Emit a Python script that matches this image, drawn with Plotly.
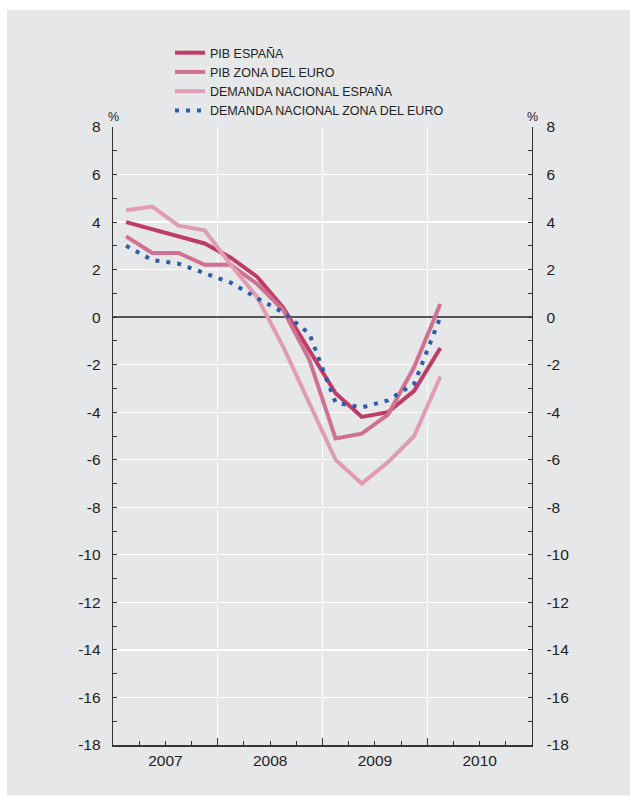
import plotly.graph_objects as go

# Quarterly data 2007Q1 .. 2010Q1 (year-on-year %)
quarters = ["2007Q1", "2007Q2", "2007Q3", "2007Q4",
            "2008Q1", "2008Q2", "2008Q3", "2008Q4",
            "2009Q1", "2009Q2", "2009Q3", "2009Q4",
            "2010Q1"]
pib_espana = [4.0, 3.7, 3.4, 3.1, 2.5, 1.7, 0.4, -1.4, -3.2, -4.2, -4.0, -3.1, -1.3]
pib_euro = [3.4, 2.7, 2.7, 2.2, 2.2, 1.4, 0.3, -1.8, -5.1, -4.9, -4.1, -2.1, 0.55]
dem_espana = [4.5, 4.65, 3.85, 3.65, 2.2, 0.85, -1.25, -3.6, -6.0, -7.0, -6.1, -5.0, -2.5]
dem_euro = [3.0, 2.4, 2.25, 1.85, 1.45, 0.8, 0.2, -0.7, -3.6, -3.8, -3.5, -2.8, 0.0]

years = ["2007", "2008", "2009", "2010"]
y_ticks = list(range(-18, 9, 2))
y_ticktext = [str(v) for v in y_ticks]

# quarter positions: quarter i is centred at i + 0.5 (4 units per year)
xpos = [i + 0.5 for i in range(len(quarters))]
year_centres = [4 * i + 2 for i in range(len(years))]
year_bounds = [4 * i for i in range(len(years) + 1)]

names = ["PIB ESPAÑA", "PIB ZONA DEL EURO", "DEMANDA NACIONAL ESPAÑA",
         "DEMANDA NACIONAL ZONA DEL EURO"]
colors = ["#bf3c64", "#d07191", "#e09db2", "#2b5cae"]

BG = "#e6e7e9"
AX = "#333333"
FONT = "Liberation Sans"
TICKSIZE = 15.5

fig = go.Figure()
for vals, nm, col in zip([pib_espana, pib_euro, dem_espana], names[:3], colors[:3]):
    fig.add_trace(go.Scatter(x=xpos, y=vals, mode="lines", name=nm,
                             line=dict(color=col, width=4), hoverinfo="skip"))
fig.add_trace(go.Scatter(x=xpos, y=dem_euro, mode="lines", name=names[3],
                         xaxis="x2", yaxis="y2",
                         line=dict(color=colors[3], width=4, dash="4px,7px"),
                         hoverinfo="skip"))

W, H = 630, 796
ml, mr, mt, mb = 113, 98, 127, 50.5
PW, PH = W - ml - mr, H - mt - mb

fig.update_layout(
    width=W, height=H,
    margin=dict(l=ml, r=mr, t=mt, b=mb, pad=0),
    paper_bgcolor="white",
    plot_bgcolor=BG,
    font=dict(family=FONT, size=TICKSIZE, color="#222222"),
    showlegend=True,
    legend=dict(x=(170 - ml) / PW, y=(H - mb - 38) / PH,
                xanchor="left", yanchor="top", bgcolor="rgba(0,0,0,0)",
                font=dict(size=12.5, family=FONT, color="#222222"),
                tracegroupgap=0, itemwidth=30),
    xaxis=dict(range=[0, 16], tickmode="array", tickvals=year_bounds,
               showticklabels=False, ticks="inside", ticklen=7, tickwidth=1.2,
               tickcolor=AX, showgrid=True, gridcolor="white", gridwidth=1.3,
               showline=True, linecolor=AX, linewidth=1.8, zeroline=False,
               minor=dict(dtick=1, tick0=0, ticks="inside", ticklen=4,
                          tickwidth=1, tickcolor=AX, showgrid=False),
               fixedrange=True),
    xaxis2=dict(range=[0, 16], overlaying="x", anchor="y2", side="bottom",
                tickmode="array", tickvals=year_centres, ticktext=years,
                ticks="", showgrid=False, showline=False, zeroline=False,
                tickfont=dict(size=TICKSIZE), ticklabelstandoff=4,
                fixedrange=True),
    yaxis=dict(range=[-18, 8], tickmode="array", tickvals=y_ticks,
               ticktext=y_ticktext,
               ticks="inside", ticklen=4, tickwidth=1, tickcolor=AX,
               showgrid=True, gridcolor="white", gridwidth=1.3,
               zeroline=True, zerolinecolor="#555555", zerolinewidth=1.3,
               showline=True, linecolor=AX, linewidth=1.3,
               minor=dict(dtick=1, tick0=0, ticks="inside", ticklen=4,
                          tickwidth=1, tickcolor=AX, showgrid=False),
               tickfont=dict(size=TICKSIZE), ticklabelstandoff=8,
               fixedrange=True),
    yaxis2=dict(range=[-18, 8], overlaying="y", anchor="x2", side="right",
                tickmode="array", tickvals=y_ticks, ticktext=y_ticktext,
                ticks="inside", ticklen=4, tickwidth=1, tickcolor=AX,
                showgrid=False, zeroline=False,
                showline=True, linecolor=AX, linewidth=1.3,
                minor=dict(dtick=1, tick0=0, ticks="inside", ticklen=4,
                           tickwidth=1, tickcolor=AX, showgrid=False),
                tickfont=dict(size=TICKSIZE), ticklabelstandoff=10,
                fixedrange=True),
    shapes=[dict(type="rect", xref="paper", yref="paper",
                 x0=-(ml - 7) / PW, x1=(W - ml) / PW,
                 y0=-mb / PH, y1=(H - mb - 10) / PH,
                 fillcolor=BG, line=dict(width=0), layer="below")],
    annotations=[
        dict(text="%", xref="paper", yref="paper", x=0, y=1, xanchor="center",
             yanchor="bottom", showarrow=False, font=dict(size=12.5, family=FONT),
             yshift=1),
        dict(text="%", xref="paper", yref="paper", x=1, y=1, xanchor="center",
             yanchor="bottom", showarrow=False, font=dict(size=12.5, family=FONT),
             yshift=1),
    ],
)

fig.write_html(
    "out.html",
    config={"displayModeBar": False, "staticPlot": True},
    post_script="document.body.style.margin='0';"
                "document.documentElement.style.overflow='hidden';",
)
